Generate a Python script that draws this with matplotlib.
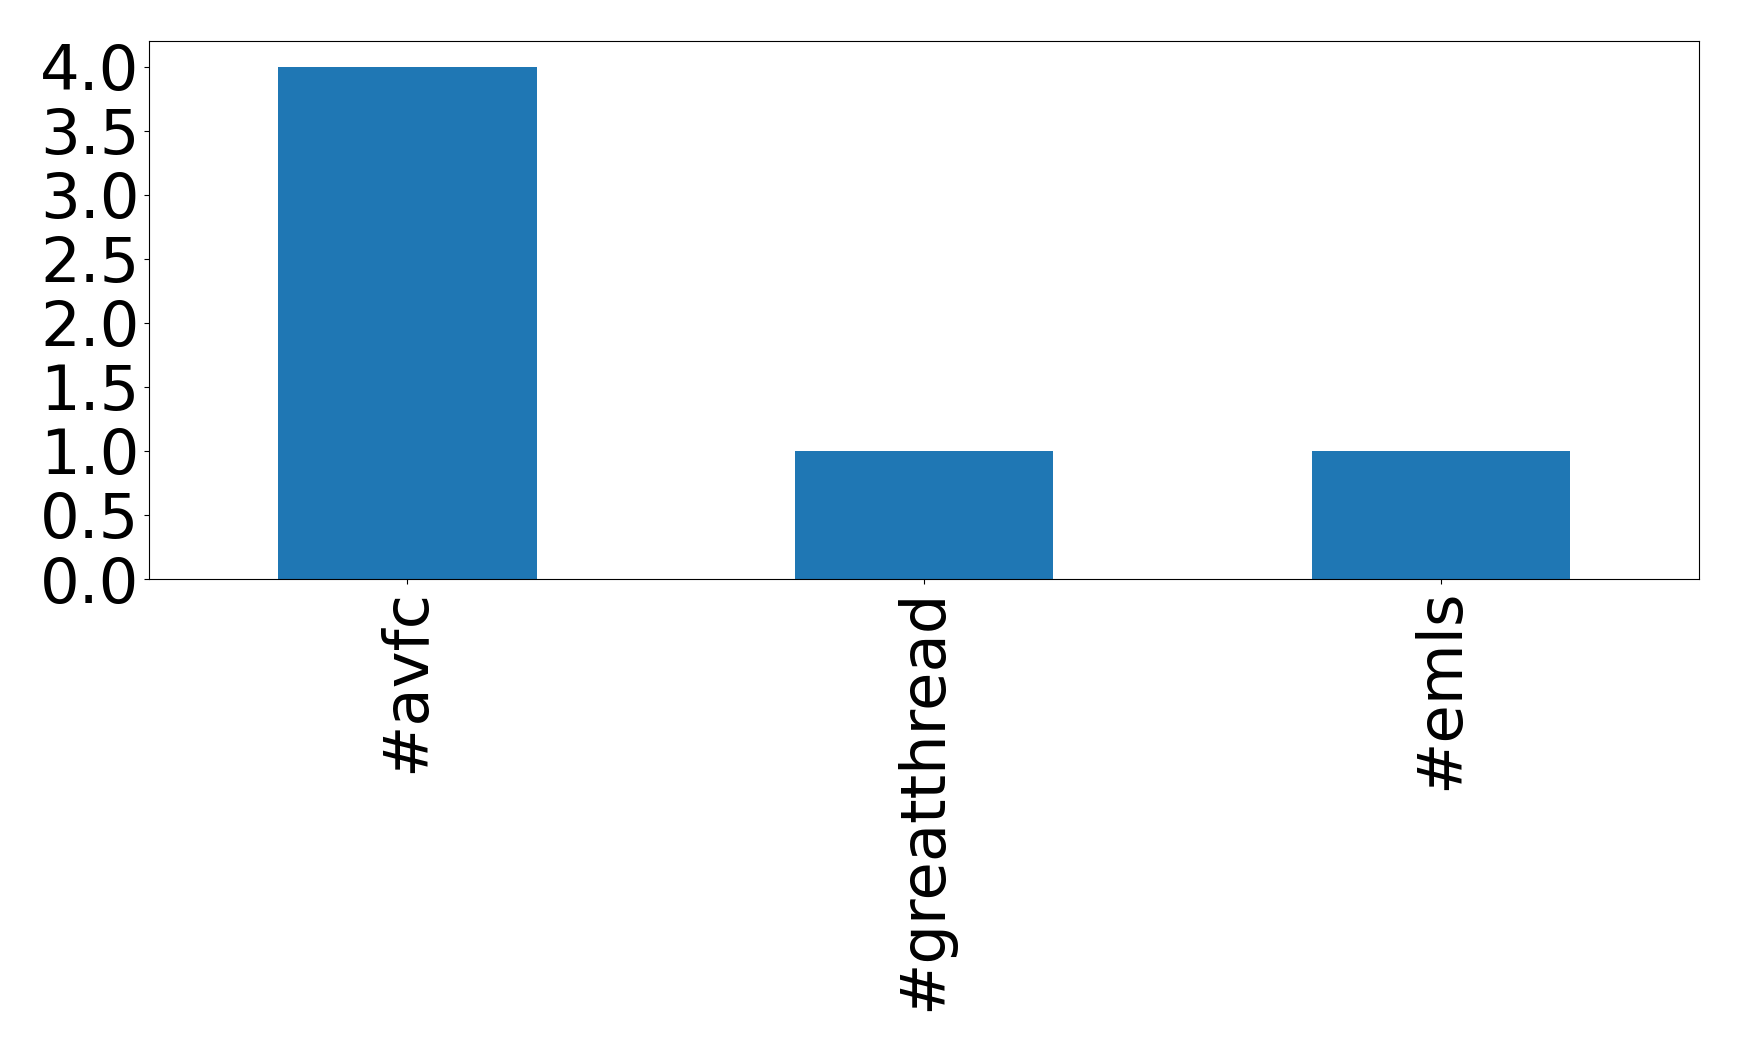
import numpy as np
import matplotlib
matplotlib.use("Agg")
import matplotlib.pyplot as plt

hashtags = ['#avfc', '#greatthread', '#emls']
counts = [4, 1, 1]

fig = plt.figure(figsize=(17.39, 10.51), dpi=100)
ax = fig.add_axes([149/1739, 1 - 579/1051, 1550/1739, 538/1051])

x = np.arange(len(hashtags))
ax.bar(x, counts, width=0.5, color='#1f77b4')
ax.set_xlim(-0.5, 2.5)
ax.set_ylim(0, 4.2)
ax.set_yticks(np.arange(0, 4.01, 0.5))
ax.set_xticks(x)
ax.set_xticklabels(hashtags, rotation=90)
ax.tick_params(labelsize=45)

fig.savefig('out.png', dpi=100)
